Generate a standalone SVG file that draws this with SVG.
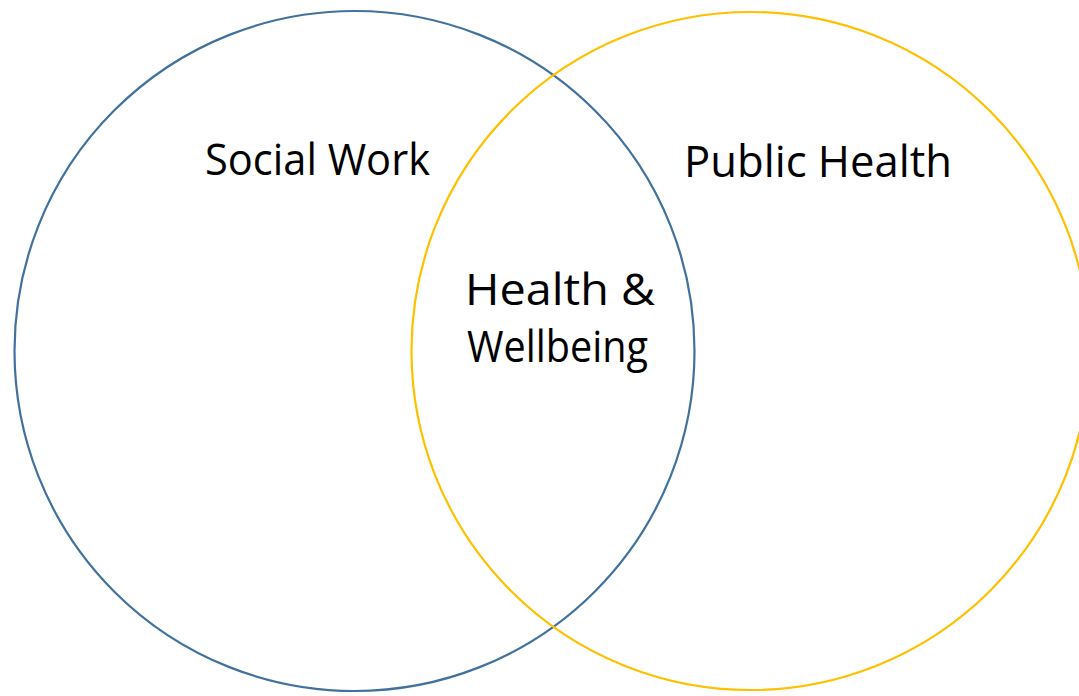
<svg xmlns="http://www.w3.org/2000/svg" width="1079" height="696" viewBox="0 0 1079 696">
<style>
.c{fill:none;stroke-width:2.2}
.t{font-family:"Open Sans","DejaVu Sans",sans-serif;font-size:44px;fill:#000}
</style>
<rect width="1079" height="696" fill="#fff"/>
<g id="social-work">
<circle class="c" cx="354.5" cy="351" r="340" stroke="#41719C"/>
<text class="t" x="205" y="175" textLength="225" lengthAdjust="spacingAndGlyphs">Social Work</text>
</g>
<g id="public-health">
<circle class="c" cx="750.5" cy="351" r="339" stroke="#FFC000"/>
<text class="t" x="684" y="177" textLength="268" lengthAdjust="spacingAndGlyphs">Public Health</text>
</g>
<g id="overlap">
<text class="t" x="465" y="305" textLength="190" lengthAdjust="spacingAndGlyphs">Health &amp;</text>
<text class="t" x="467" y="362" textLength="181" lengthAdjust="spacingAndGlyphs">Wellbeing</text>
</g>
<g id="connectors"/>
</svg>
